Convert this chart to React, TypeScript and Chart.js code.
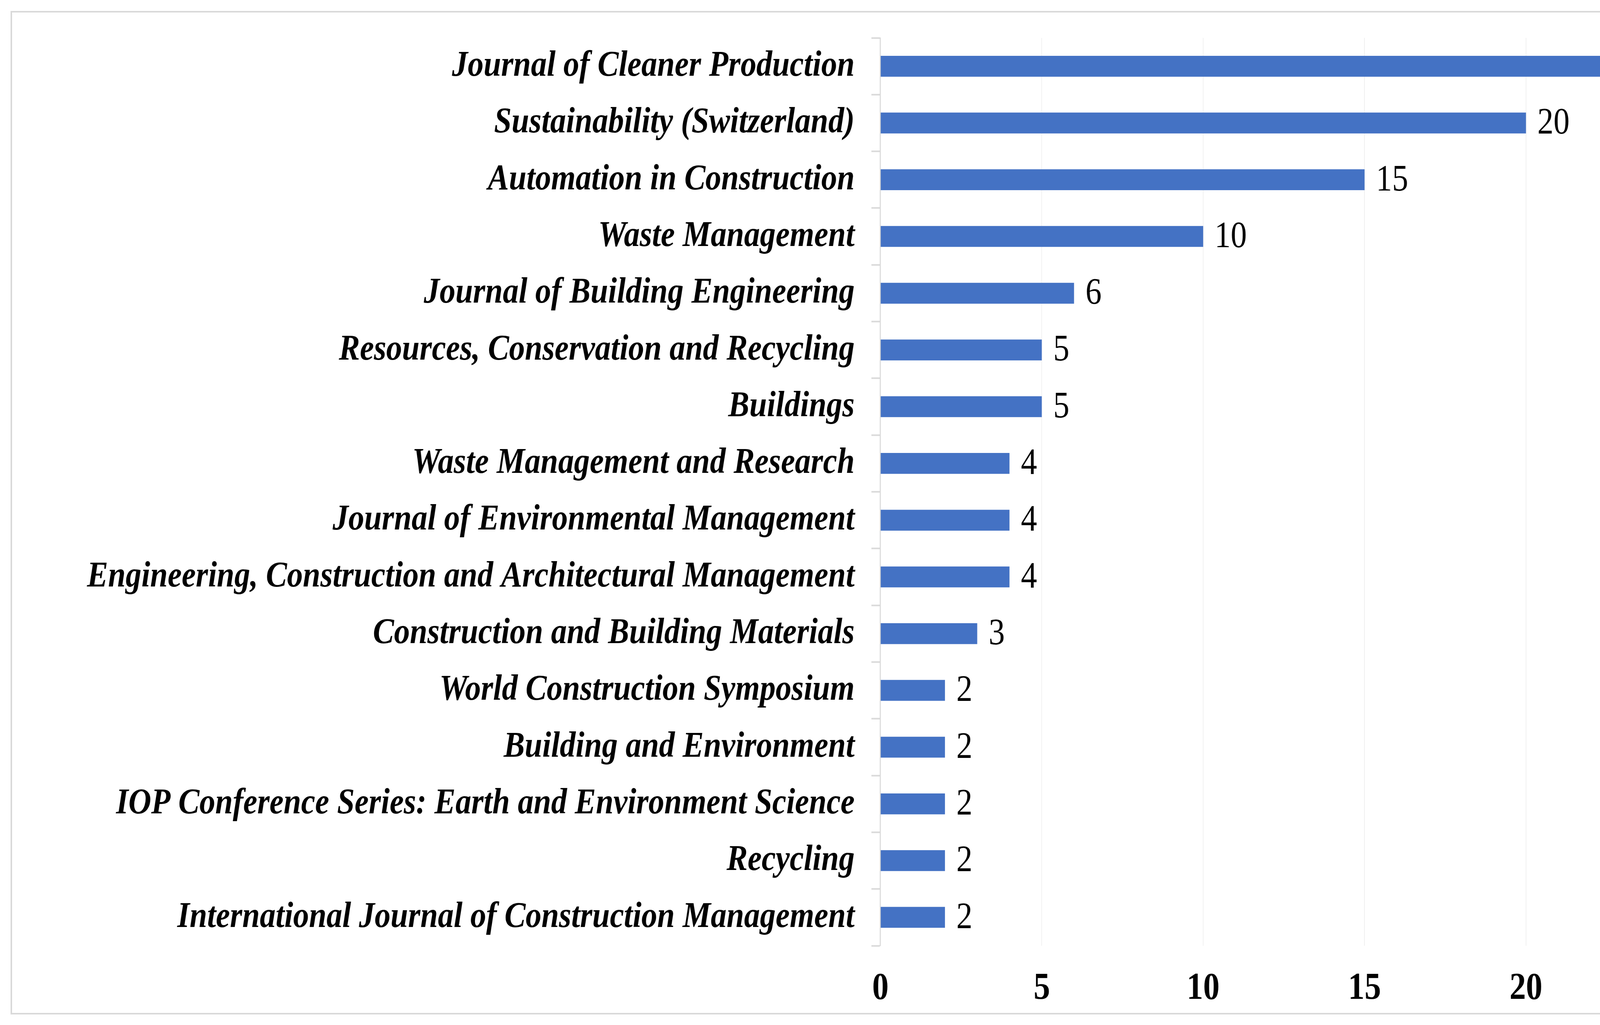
import React, { useEffect, useRef } from "react";
import { Chart, registerables } from "chart.js";

Chart.register(...registerables);

const categories: string[] = [
  "Journal of Cleaner Production",
  "Sustainability (Switzerland)",
  "Automation in Construction",
  "Waste Management",
  "Journal of Building Engineering",
  "Resources, Conservation and Recycling",
  "Buildings",
  "Waste Management and Research",
  "Journal of Environmental Management",
  "Engineering, Construction and Architectural Management",
  "Construction and Building Materials",
  "World Construction Symposium",
  "Building and Environment",
  "IOP Conference Series: Earth and Environment Science",
  "Recycling",
  "International Journal of Construction Management",
];

const values: number[] = [24, 20, 15, 10, 6, 5, 5, 4, 4, 4, 3, 2, 2, 2, 2, 2];

const xTickValues: number[] = [0, 5, 10, 15, 20, 25];

const PAGE_W = 4555;
const PAGE_H = 2625;
const SQUASH = 0.86; // horizontal compression of the reference picture
const LOGICAL_W = Math.round(PAGE_W / SQUASH);

const PLOT_LEFT = 2254 / SQUASH;
const PLOT_RIGHT = 4320 / SQUASH;
const PLOT_TOP = 97;
const PLOT_BOTTOM = 2422;
const TICK_LEN = 23 / SQUASH;
const LABEL_GAP = 66 / SQUASH - TICK_LEN;
const VALUE_GAP = 34;

const FONT = "'Liberation Serif', 'Times New Roman', serif";

const valueLabels = {
  id: "valueLabels",
  afterDatasetsDraw(chart: any) {
    const ctx = chart.ctx;
    const meta = chart.getDatasetMeta(0);
    ctx.save();
    ctx.font = `normal 96px ${FONT}`;
    ctx.fillStyle = "#000000";
    ctx.textBaseline = "middle";
    ctx.textAlign = "left";
    meta.data.forEach((bar: any, i: number) => {
      const text = String(values[i]);
      const w = ctx.measureText(text).width;
      let x = bar.x + VALUE_GAP;
      if (x + w > chart.chartArea.right) x = Math.max(bar.x + 3, chart.chartArea.right - w);
      ctx.fillText(text, x, bar.y + 2);
    });
    ctx.restore();
  },
};

export default function App() {
  const canvasRef = useRef<HTMLCanvasElement | null>(null);

  useEffect(() => {
    const canvas = canvasRef.current;
    if (!canvas) return;
    const chart = new Chart(canvas, {
      type: "bar",
      data: {
        labels: categories,
        datasets: [
          {
            data: values,
            backgroundColor: "#4472C4",
            borderWidth: 0,
            barPercentage: 0.368,
            categoryPercentage: 1,
          },
        ],
      },
      options: {
        indexAxis: "y",
        animation: false,
        responsive: false,
        maintainAspectRatio: false,
        devicePixelRatio: 1,
        layout: {
          padding: { left: 0, top: PLOT_TOP, right: LOGICAL_W - PLOT_RIGHT, bottom: 0 },
        },
        plugins: {
          legend: { display: false },
          tooltip: { enabled: false },
          title: { display: false },
        },
        scales: {
          x: {
            type: "linear",
            min: 0,
            max: 25,
            afterBuildTicks: (scale: any) => {
              scale.ticks = xTickValues.map((v) => ({ value: v }));
            },
            afterFit: (scale: any) => {
              scale.height = PAGE_H - PLOT_BOTTOM;
              scale.paddingLeft = 0;
              scale.paddingRight = 0;
            },
            grid: {
              color: "#efefef",
              lineWidth: 2,
              drawTicks: false,
            },
            border: { display: false },
            ticks: {
              padding: 52,
              color: "#000000",
              font: { family: FONT, size: 98, weight: "bold" },
            },
          },
          y: {
            type: "category",
            afterFit: (scale: any) => {
              scale.width = PLOT_LEFT;
              scale.paddingTop = 0;
              scale.paddingBottom = 0;
            },
            grid: {
              offset: true,
              drawOnChartArea: false,
              drawTicks: true,
              tickLength: TICK_LEN,
              tickColor: "#d9d9d9",
              tickWidth: 4,
            },
            border: { display: true, color: "#d9d9d9", width: 3 },
            ticks: {
              padding: LABEL_GAP,
              color: "#000000",
              autoSkip: false,
              font: { family: FONT, size: 94, weight: "bold", style: "italic" },
            },
          },
        },
      },
      plugins: [valueLabels],
    } as any);
    return () => chart.destroy();
  }, []);

  return (
    <div style={{ position: "absolute", left: 0, top: 0, width: PAGE_W, height: PAGE_H, background: "#ffffff" }}>
      <canvas
        ref={canvasRef}
        width={LOGICAL_W}
        height={PAGE_H}
        style={{ position: "absolute", left: 0, top: 0, width: `${PAGE_W}px`, height: `${PAGE_H}px` }}
      />
      <div
        style={{
          position: "absolute",
          left: 27,
          top: 28,
          width: 4497,
          height: 2570,
          border: "4px solid #d9d9d9",
          boxSizing: "border-box",
          pointerEvents: "none",
        }}
      />
    </div>
  );
}
